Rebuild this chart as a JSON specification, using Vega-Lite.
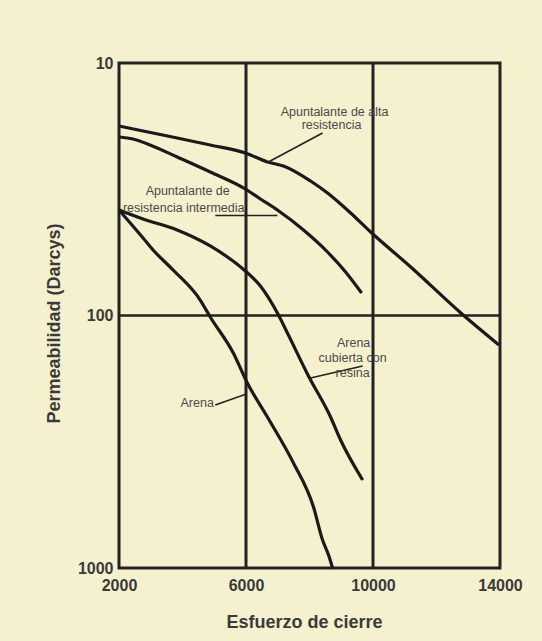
{
  "$schema": "https://vega.github.io/schema/vega-lite/v6.json",
  "width": 381,
  "height": 505,
  "autosize": {"type": "none"},
  "padding": {"left": 119, "top": 63, "right": 42, "bottom": 73},
  "background": "#f5f1cf",
  "config": {
    "view": {"stroke": "#222222", "strokeWidth": 3},
    "font": "Liberation Sans",
    "axisX": {"grid": false, "ticks": false, "domain": false, "labelFont": "Liberation Sans", "labelFontSize": 16, "labelFontWeight": "bold", "labelColor": "#3a3a3a", "labelPadding": 9, "labelFlush": false, "labelOverlap": false, "format": "d",
      "titleFont": "Liberation Sans", "titleFontSize": 18, "titleFontWeight": "bold", "titleColor": "#3a3a3a", "titleX": 185, "titleY": 54, "titleBaseline": "middle", "titleAlign": "center"},
    "axisY": {"grid": false, "ticks": false, "domain": false, "format": "d", "labelFont": "Liberation Sans", "labelFontSize": 16, "labelFontWeight": "bold", "labelColor": "#3a3a3a", "labelPadding": 6, "labelFlush": false, "labelOverlap": false,
      "titleFont": "Liberation Sans", "titleFontSize": 18, "titleFontWeight": "bold", "titleColor": "#3a3a3a", "titleX": -65, "titleY": 260, "titleAngle": -90, "titleBaseline": "middle", "titleAlign": "center"}
  },
  "layer": [
    {
      "data": {"values": [{"x": 6000}, {"x": 10000}]},
      "mark": {"type": "rule", "color": "#222222", "strokeWidth": 3},
      "encoding": {
        "x": {"field": "x", "type": "quantitative", "scale": {"domain": [2000, 14000], "nice": false, "zero": false},
          "axis": {"title": "Esfuerzo de cierre", "values": [2000, 6000, 10000, 14000], "labelExpr": "datum.value === 10000 ? '\u00a0\u00a0\u00a0\u00a0\u00a0\u00a0\u00a0\u00a0\u00a0\u00a0\u00a0\u00a0\u00a0\u00a0' + datum.label : datum.value === 14000 ? '\u00a0\u00a0\u00a0\u00a0\u00a0' + datum.label : datum.value === 6000 ? '\u00a0\u00a0' + datum.label : '\u00a0' + datum.label"}}
      }
    },
    {
      "data": {"values": [{"y": 100}]},
      "mark": {"type": "rule", "color": "#222222", "strokeWidth": 2.5},
      "encoding": {
        "y": {"field": "y", "type": "quantitative", "scale": {"type": "log", "domain": [10, 1000], "reverse": true, "nice": false},
          "axis": {"title": "Permeabilidad  (Darcys)", "values": [10, 100, 1000], "labelExpr": "datum.value === 1000 ? datum.label + '\u00a0\u00a0' : datum.label"}}
      }
    },
    {
      "data": {"values": [
        {"series": "Apuntalante de alta resistencia", "x": 2000, "y": 17.76},
        {"series": "Apuntalante de alta resistencia", "x": 2758, "y": 18.59},
        {"series": "Apuntalante de alta resistencia", "x": 3832, "y": 19.82},
        {"series": "Apuntalante de alta resistencia", "x": 4874, "y": 21.12},
        {"series": "Apuntalante de alta resistencia", "x": 5979, "y": 22.72},
        {"series": "Apuntalante de alta resistencia", "x": 6674, "y": 24.66},
        {"series": "Apuntalante de alta resistencia", "x": 7179, "y": 25.58},
        {"series": "Apuntalante de alta resistencia", "x": 8032, "y": 29.33},
        {"series": "Apuntalante de alta resistencia", "x": 8568, "y": 32.73},
        {"series": "Apuntalante de alta resistencia", "x": 9295, "y": 39.26},
        {"series": "Apuntalante de alta resistencia", "x": 9926, "y": 46.7},
        {"series": "Apuntalante de alta resistencia", "x": 11189, "y": 64.27},
        {"series": "Apuntalante de alta resistencia", "x": 12768, "y": 97.75},
        {"series": "Apuntalante de alta resistencia", "x": 13968, "y": 130.9},
        {"series": "Apuntalante de resistencia intermedia", "x": 2000, "y": 19.64},
        {"series": "Apuntalante de resistencia intermedia", "x": 2442, "y": 20.0},
        {"series": "Apuntalante de resistencia intermedia", "x": 2979, "y": 21.12},
        {"series": "Apuntalante de resistencia intermedia", "x": 3832, "y": 23.57},
        {"series": "Apuntalante de resistencia intermedia", "x": 4874, "y": 27.02},
        {"series": "Apuntalante de resistencia intermedia", "x": 5979, "y": 31.55},
        {"series": "Apuntalante de resistencia intermedia", "x": 6453, "y": 34.56},
        {"series": "Apuntalante de resistencia intermedia", "x": 6989, "y": 38.21},
        {"series": "Apuntalante de resistencia intermedia", "x": 7811, "y": 45.85},
        {"series": "Apuntalante de resistencia intermedia", "x": 8568, "y": 56.04},
        {"series": "Apuntalante de resistencia intermedia", "x": 9137, "y": 67.26},
        {"series": "Apuntalante de resistencia intermedia", "x": 9642, "y": 81.46},
        {"series": "Arena cubierta con resina", "x": 2000, "y": 38.21},
        {"series": "Arena cubierta con resina", "x": 2758, "y": 41.48},
        {"series": "Arena cubierta con resina", "x": 3832, "y": 45.85},
        {"series": "Arena cubierta con resina", "x": 4874, "y": 53.05},
        {"series": "Arena cubierta con resina", "x": 5979, "y": 66.66},
        {"series": "Arena cubierta con resina", "x": 6453, "y": 76.41},
        {"series": "Arena cubierta con resina", "x": 6989, "y": 97.75},
        {"series": "Arena cubierta con resina", "x": 7305, "y": 117.3},
        {"series": "Arena cubierta con resina", "x": 7968, "y": 173.6},
        {"series": "Arena cubierta con resina", "x": 8663, "y": 252.3},
        {"series": "Arena cubierta con resina", "x": 8979, "y": 311.2},
        {"series": "Arena cubierta con resina", "x": 9674, "y": 448.3},
        {"series": "Arena", "x": 2000, "y": 38.21},
        {"series": "Arena", "x": 2758, "y": 49.33},
        {"series": "Arena", "x": 3074, "y": 55.02},
        {"series": "Arena", "x": 3705, "y": 66.05},
        {"series": "Arena", "x": 4558, "y": 86.83},
        {"series": "Arena", "x": 4874, "y": 101.4},
        {"series": "Arena", "x": 5600, "y": 140.8},
        {"series": "Arena", "x": 6042, "y": 185.1},
        {"series": "Arena", "x": 6674, "y": 252.3},
        {"series": "Arena", "x": 7495, "y": 383.9},
        {"series": "Arena", "x": 8126, "y": 573.4},
        {"series": "Arena", "x": 8411, "y": 774.7},
        {"series": "Arena", "x": 8600, "y": 888.2},
        {"series": "Arena", "x": 8726, "y": 1000}
      ]},
      "mark": {"type": "line", "color": "#1a1a1a", "strokeWidth": 3.2, "interpolate": "monotone"},
      "encoding": {
        "x": {"field": "x", "type": "quantitative", "scale": {"domain": [2000, 14000], "nice": false, "zero": false},
          "axis": {"title": "Esfuerzo de cierre", "values": [2000, 6000, 10000, 14000], "labelExpr": "datum.value === 10000 ? '\u00a0\u00a0\u00a0\u00a0\u00a0\u00a0\u00a0\u00a0\u00a0\u00a0\u00a0\u00a0\u00a0\u00a0' + datum.label : datum.value === 14000 ? '\u00a0\u00a0\u00a0\u00a0\u00a0' + datum.label : datum.value === 6000 ? '\u00a0\u00a0' + datum.label : '\u00a0' + datum.label"}},
        "y": {"field": "y", "type": "quantitative", "scale": {"type": "log", "domain": [10, 1000], "reverse": true, "nice": false},
          "axis": {"title": "Permeabilidad  (Darcys)", "values": [10, 100, 1000], "labelExpr": "datum.value === 1000 ? datum.label + '\u00a0\u00a0' : datum.label"}},
        "detail": {"field": "series", "type": "nominal"}
      }
    },
    {
      "data": {"values": [
        {"leader": "alta", "x": 8411, "y": 18.93},
        {"leader": "alta", "x": 6705, "y": 24.66},
        {"leader": "intermedia", "x": 5032, "y": 40.18},
        {"leader": "intermedia", "x": 6989, "y": 40.18},
        {"leader": "resina", "x": 9674, "y": 158.5},
        {"leader": "resina", "x": 8032, "y": 176.8},
        {"leader": "arena", "x": 5032, "y": 226.1},
        {"leader": "arena", "x": 6011, "y": 204.6}
      ]},
      "mark": {"type": "line", "color": "#222222", "strokeWidth": 1.6},
      "encoding": {
        "x": {"field": "x", "type": "quantitative", "scale": {"domain": [2000, 14000], "nice": false, "zero": false},
          "axis": {"title": "Esfuerzo de cierre", "values": [2000, 6000, 10000, 14000], "labelExpr": "datum.value === 10000 ? '\u00a0\u00a0\u00a0\u00a0\u00a0\u00a0\u00a0\u00a0\u00a0\u00a0\u00a0\u00a0\u00a0\u00a0' + datum.label : datum.value === 14000 ? '\u00a0\u00a0\u00a0\u00a0\u00a0' + datum.label : datum.value === 6000 ? '\u00a0\u00a0' + datum.label : '\u00a0' + datum.label"}},
        "y": {"field": "y", "type": "quantitative", "scale": {"type": "log", "domain": [10, 1000], "reverse": true, "nice": false},
          "axis": {"title": "Permeabilidad  (Darcys)", "values": [10, 100, 1000], "labelExpr": "datum.value === 1000 ? datum.label + '\u00a0\u00a0' : datum.label"}},
        "detail": {"field": "leader", "type": "nominal"}
      }
    },
    {
      "data": {"values": [
        {"label": "Apuntalante de alta", "x": 8790, "y": 15.64},
        {"label": "resistencia", "x": 8695, "y": 17.6},
        {"label": "Apuntalante de", "x": 4163, "y": 32.14},
        {"label": "resistencia intermedia", "x": 4037, "y": 37.52},
        {"label": "Arena", "x": 9390, "y": 128.5},
        {"label": "cubierta con", "x": 9358, "y": 147.4},
        {"label": "resina", "x": 9358, "y": 168.9},
        {"label": "Arena", "x": 4463, "y": 222.1}
      ]},
      "mark": {"type": "text", "font": "Liberation Sans", "fontSize": 12.5, "color": "#4a4a4a", "align": "center", "baseline": "middle"},
      "encoding": {
        "x": {"field": "x", "type": "quantitative", "scale": {"domain": [2000, 14000], "nice": false, "zero": false},
          "axis": {"title": "Esfuerzo de cierre", "values": [2000, 6000, 10000, 14000], "labelExpr": "datum.value === 10000 ? '\u00a0\u00a0\u00a0\u00a0\u00a0\u00a0\u00a0\u00a0\u00a0\u00a0\u00a0\u00a0\u00a0\u00a0' + datum.label : datum.value === 14000 ? '\u00a0\u00a0\u00a0\u00a0\u00a0' + datum.label : datum.value === 6000 ? '\u00a0\u00a0' + datum.label : '\u00a0' + datum.label"}},
        "y": {"field": "y", "type": "quantitative", "scale": {"type": "log", "domain": [10, 1000], "reverse": true, "nice": false},
          "axis": {"title": "Permeabilidad  (Darcys)", "values": [10, 100, 1000], "labelExpr": "datum.value === 1000 ? datum.label + '\u00a0\u00a0' : datum.label"}},
        "text": {"field": "label", "type": "nominal"}
      }
    }
  ]
}
